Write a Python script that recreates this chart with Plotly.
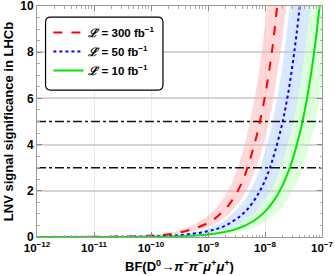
import plotly.graph_objects as go

# ---- data ----
bf_red = [1e-12, 1e-11, 1e-10, 3e-10, 1e-9, 2e-9, 3e-9, 4e-9, 5e-9, 6e-9, 7e-9, 8e-9,
          1e-8, 1.2e-8, 1.4e-8, 1.7e-8, 2e-8, 2.5e-8]
sig_red = [0.0006, 0.006, 0.06, 0.18, 0.61, 1.2, 1.8, 2.4, 3.05, 3.7, 4.3, 4.9,
           6.1, 7.3, 8.5, 10.4, 12.2, 15.2]
hi_red = [0.0009, 0.009, 0.09, 0.27, 0.92, 1.8, 2.7, 3.6, 4.6, 5.5, 6.4, 7.3,
          9.2, 11.0, 12.8, 15.6, 18.3, 22.8]
lo_red = [0.0004, 0.004, 0.04, 0.13, 0.43, 0.85, 1.3, 1.7, 2.1, 2.6, 3.0, 3.4,
          4.3, 5.1, 6.0, 7.3, 8.5, 10.6]

bf_blue = [1e-12, 1e-11, 1e-10, 3e-10, 1e-9, 2e-9, 4e-9, 6e-9, 8e-9, 1e-8, 1.2e-8,
           1.5e-8, 2e-8, 2.5e-8, 3e-8, 3.5e-8, 4.2e-8, 5e-8, 6e-8, 7e-8]
sig_blue = [0.00025, 0.0025, 0.025, 0.074, 0.25, 0.49, 0.98, 1.47, 1.96, 2.45, 2.94,
            3.7, 4.9, 6.1, 7.35, 8.6, 10.3, 12.3, 14.7, 17.2]
hi_blue = [0.0004, 0.004, 0.037, 0.11, 0.37, 0.74, 1.47, 2.2, 2.9, 3.7, 4.4,
           5.5, 7.35, 9.2, 11.0, 12.9, 15.4, 18.4, 22.0, 25.7]
lo_blue = [0.00016, 0.0016, 0.016, 0.048, 0.16, 0.32, 0.64, 0.96, 1.27, 1.6, 1.9,
           2.4, 3.2, 4.0, 4.8, 5.6, 6.7, 8.0, 9.6, 11.1]

bf_green = [1e-12, 1e-11, 1e-10, 3e-10, 1e-9, 3e-9, 6e-9, 1e-8, 1.5e-8, 2e-8, 2.5e-8,
            3e-8, 4e-8, 5e-8, 6e-8, 7e-8, 8e-8, 9e-8, 1e-7]
sig_green = [0.00011, 0.0011, 0.011, 0.033, 0.11, 0.33, 0.66, 1.1, 1.65, 2.2, 2.75,
             3.3, 4.4, 5.5, 6.6, 7.7, 8.8, 9.9, 11.0]
hi_green = [0.00017, 0.0017, 0.017, 0.05, 0.17, 0.5, 1.0, 1.65, 2.5, 3.3, 4.1,
            4.95, 6.6, 8.25, 9.9, 11.5, 13.2, 14.8, 16.5]
lo_green = [0.00007, 0.0007, 0.007, 0.02, 0.066, 0.2, 0.4, 0.66, 1.0, 1.3, 1.65,
            2.0, 2.6, 3.3, 4.0, 4.6, 5.3, 5.9, 6.6]

labels = ["<i>ℒ</i> = 300 fb<sup>−1</sup>", "<i>ℒ</i> = 50 fb<sup>−1</sup>", "<i>ℒ</i> = 10 fb<sup>−1</sup>"]
thresholds = [3, 5]
x_range = [1e-12, 1e-7]
x_tickvals = [1e-12, 1e-11, 1e-10, 1e-9, 1e-8, 1e-7]
x_ticktext = ["<b>10<sup>−12</sup></b>", "<b>10<sup>−11</sup></b>", "<b>10<sup>−10</sup></b>",
              "<b>10<sup>−9</sup></b>", "<b>10<sup>−8</sup></b>", "<b>10<sup>−7</sup></b>"]
y_tickvals = [0, 2, 4, 6, 8, 10]

series = [
    (bf_red, sig_red, hi_red, lo_red, "#ff0000", "rgba(255,170,170,0.45)", "dash"),
    (bf_blue, sig_blue, hi_blue, lo_blue, "#0000ff", "rgba(170,205,255,0.45)", "dot"),
    (bf_green, sig_green, hi_green, lo_green, "#00e400", "rgba(170,255,170,0.40)", "solid"),
]

fig = go.Figure()
for bf, s, hi, lo, col, fcol, dash in series:
    fig.add_trace(go.Scatter(x=bf, y=lo, mode="lines", line=dict(width=0, shape="spline"),
                             showlegend=False, hoverinfo="skip"))
    fig.add_trace(go.Scatter(x=bf, y=hi, mode="lines", line=dict(width=0, shape="spline"),
                             fill="tonexty", fillcolor=fcol, showlegend=False, hoverinfo="skip"))

for t in thresholds:
    fig.add_trace(go.Scatter(x=x_range, y=[t, t], mode="lines",
                             line=dict(color="#111111", width=1.4, dash="dashdot"),
                             showlegend=False, hoverinfo="skip"))

for (bf, s, hi, lo, col, fcol, dash), lab in zip(series, labels):
    fig.add_trace(go.Scatter(x=bf, y=s, mode="lines", name=lab,
                             line=dict(color=col, width=2, dash=dash, shape="spline")))

rx, ry = 0.018, 0.022
x0, x1, y0, y1 = 0.030, 0.442, 0.636, 0.952
path = (f"M {x0+rx},{y0} L {x1-rx},{y0} Q {x1},{y0} {x1},{y0+ry} L {x1},{y1-ry} "
        f"Q {x1},{y1} {x1-rx},{y1} L {x0+rx},{y1} Q {x0},{y1} {x0},{y1-ry} "
        f"L {x0},{y0+ry} Q {x0},{y0} {x0+rx},{y0} Z")
fig.add_shape(type="path", path=path, xref="paper", yref="paper",
              line=dict(color="black", width=1.2), fillcolor="white", layer="above", opacity=1)

fig.update_layout(
    width=335, height=276,
    margin=dict(l=37, r=13, t=6, b=39, autoexpand=False),
    paper_bgcolor="white", plot_bgcolor="white",
    font=dict(family="Liberation Sans, Arial, sans-serif", color="black", size=12),
    legend=dict(x=0.04, y=0.948, xanchor="left", yanchor="top", bgcolor="rgba(0,0,0,0)",
                traceorder="normal",
                font=dict(size=11.5, family="Liberation Sans, Arial, sans-serif", weight="bold"),
                tracegroupgap=0, itemwidth=30),
    showlegend=True,
)
fig.update_xaxes(type="log", range=[-12, -7], tickvals=x_tickvals, ticktext=x_ticktext,
                 automargin=False, ticklabeloverflow="allow",
                 ticks="inside", ticklen=5, tickcolor="#888", mirror="ticks",
                 showline=True, linecolor="#999", linewidth=1,
                 showgrid=True, gridcolor="#ececec", gridwidth=1, zeroline=False,
                 tickfont=dict(size=11.5),
                 minor=dict(ticks="inside", ticklen=2.5, tickcolor="#aaa", dtick="D1", showgrid=False),
                 title=dict(text="<b>BF(D<sup>0</sup>→<i>π</i><sup>−</sup><i>π</i><sup>−</sup><i>μ</i><sup>+</sup><i>μ</i><sup>+</sup>)</b>",
                            font=dict(size=13), standoff=9))
fig.update_yaxes(range=[0, 10], tickvals=y_tickvals, ticktext=[f"<b>{v}</b>" for v in y_tickvals],
                 automargin=False, ticklabeloverflow="allow",
                 ticks="inside", ticklen=5, tickcolor="#888", mirror="ticks",
                 showline=True, linecolor="#999", linewidth=1,
                 showgrid=True, gridcolor="#d4d4d4", gridwidth=1.5, zeroline=False,
                 tickfont=dict(size=12),
                 minor=dict(ticks="inside", ticklen=2.5, tickcolor="#aaa", dtick=0.5, showgrid=False),
                 title=dict(text="<b>LNV signal significance in LHCb</b>", font=dict(size=13), standoff=3))

fig.write_html("out.html", config={"displayModeBar": False},
               post_script="document.body.style.margin='0';document.body.style.overflow='hidden';")
